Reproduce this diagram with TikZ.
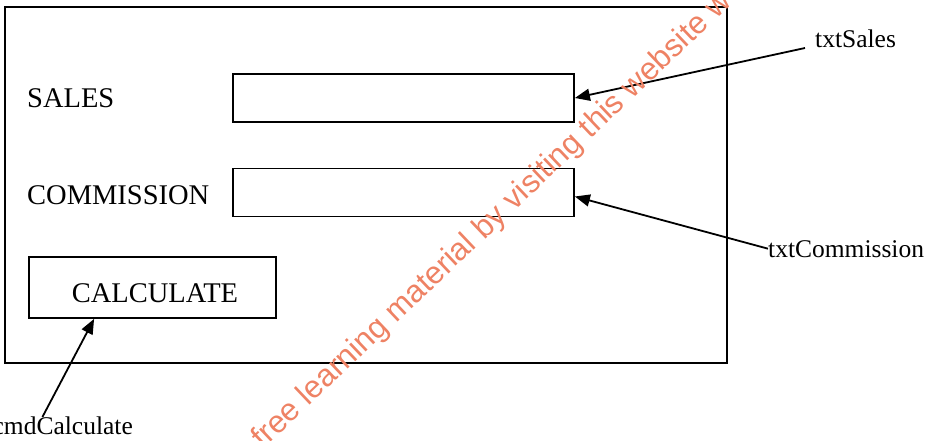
\documentclass[tikz,border=0pt]{standalone}
\usepackage{fontspec}
\setmainfont{Liberation Serif}
\newfontfamily\wmfont{Liberation Sans}
\usetikzlibrary{arrows.meta}
\definecolor{wm}{RGB}{238,130,100}
\begin{document}
\begin{tikzpicture}[x=1pt,y=-1pt,
  frame/.style={draw, line width=1.8pt, inner sep=0pt},
  field/.style={draw, line width=1.8pt, minimum width=341pt, minimum height=48pt, inner sep=0pt},
  lbl/.style={font=\fontsize{28.5}{30}\selectfont, inner sep=0pt},
  ptr/.style={font=\fontsize{25.5}{27}\selectfont, inner sep=0pt},
  pointer/.style={line width=1.8pt, -{Triangle[length=15pt,width=12pt]}},
  wmark/.style={font=\wmfont\fontsize{31.5}{33}\selectfont, text=wm, inner sep=0pt}
]
\useasboundingbox (0,0) rectangle (930,440);
\clip (0,0) rectangle (930,440);
\node[frame, minimum width=722pt, minimum height=356pt] (form) at (366,185) {};
\node[field] (sbox) at (403.5,98) {};
\node[field] (cbox) at (403.5,192.5) {};
\node[field, minimum width=247pt, minimum height=61pt] (btn) at (152.5,287.5) {};
\node[lbl, anchor=base west] (sales) at (27,107) {SALES};
\node[lbl, anchor=base west] (comm) at (27,204) {COMMISSION};
\node[lbl, anchor=base] (calc) at (155,302) {CALCULATE};
\node[ptr, anchor=base west] (txts) at (815,47) {txtSales};
\node[ptr, anchor=base west] (txtc) at (768,257) {txtCommission};
\node[ptr, anchor=base east] (cmd) at (133,434) {cmdCalculate};
\draw[pointer] ([xshift=-10pt,yshift=-1pt]txts.base west) -- (sbox.east);
\draw[pointer] (txtc.west) -- ([yshift=-4pt]cbox.east);
\draw[pointer] ([xshift=50pt,yshift=17pt]cmd.base west) -- ([xshift=66pt]btn.south west);
\node[wmark, rotate=43.5, anchor=base west] (wmk) at (263,450) {free learning material by visiting this website w};
\end{tikzpicture}
\end{document}
